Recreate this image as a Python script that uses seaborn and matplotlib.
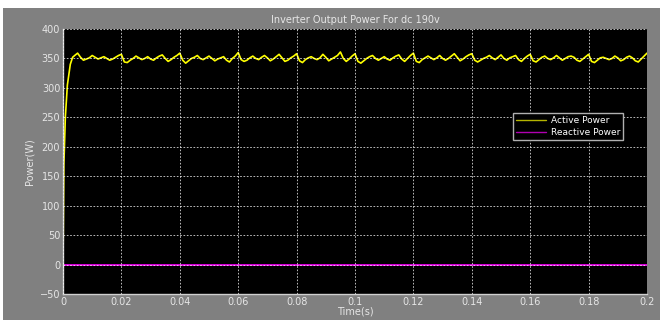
import numpy as np
import pandas as pd
import matplotlib
matplotlib.use("Agg")
import matplotlib.pyplot as plt
import seaborn as sns
from matplotlib.patches import Rectangle

# ---- data ----
start_t = [0.0, 0.0003, 0.0008, 0.0015, 0.0025, 0.0033]
start_p = [0, 170, 250, 305, 340, 352]

active_vals = [
    355, 359, 352, 347, 349, 351, 355, 352, 349, 351, 353, 350, 347, 349, 352, 355,
    357, 344, 343, 347, 350, 354, 351, 348, 350, 353, 349, 347, 351, 354, 356, 350, 345, 348, 352, 355,
    359, 347, 342, 346, 350, 352, 355, 350, 348, 351, 354, 350, 346, 349, 351, 353, 347, 344, 350, 354,
    360, 348, 345, 347, 351, 354, 350, 348, 352, 355, 351, 346, 349, 353, 357, 351, 345, 347, 351, 354,
    358, 346, 343, 348, 351, 353, 350, 348, 351, 357, 352, 346, 349, 352, 355, 361, 350, 345, 349, 354,
    358, 345, 342, 346, 350, 353, 355, 350, 347, 350, 353, 349, 347, 351, 354, 356, 349, 345, 350, 355,
    359, 345, 343, 348, 351, 354, 351, 348, 351, 355, 350, 347, 350, 354, 358, 352, 346, 349, 353, 356,
    358, 347, 344, 347, 350, 352, 355, 351, 348, 352, 356, 350, 347, 351, 353, 355, 348, 345, 350, 354,
    357, 346, 344, 348, 352, 354, 350, 348, 351, 355, 351, 347, 350, 353, 354, 352, 347, 345, 349, 353,
    357, 345, 343, 347, 351, 352, 350, 348, 350, 354, 351, 346, 348, 352, 354, 351, 346, 344, 349, 354, 359,
]
active_t = [round(0.004 + 0.001 * i, 4) for i in range(len(active_vals))]

reactive_t = [0.0, 0.05, 0.1, 0.15, 0.2]
reactive_p = [0, 0, 0, 0, 0]

xticks = [0, 0.02, 0.04, 0.06, 0.08, 0.1, 0.12, 0.14, 0.16, 0.18, 0.2]
xtick_labels = ["0", "0.02", "0.04", "0.06", "0.08", "0.1", "0.12", "0.14", "0.16", "0.18", "0.2"]
yticks = [-50, 0, 50, 100, 150, 200, 250, 300, 350, 400]

df = pd.concat([
    pd.DataFrame({"Time": start_t + active_t, "Power": start_p + active_vals, "Series": "Active Power"}),
    pd.DataFrame({"Time": reactive_t, "Power": reactive_p, "Series": "Reactive Power"}),
], ignore_index=True)

sns.set_style("dark")
plt.rcParams["font.family"] = ["DejaVu Sans"]

fig = plt.figure(figsize=(6.7, 3.22), dpi=100, facecolor="white")
fig.patches.append(Rectangle((3 / 670, 1 - 320 / 322), 657 / 670, 312 / 322,
                             transform=fig.transFigure, facecolor="#808080",
                             edgecolor="none", zorder=-10))
ax = fig.add_axes([63 / 670, 1 - 294 / 322, 584 / 670, 265 / 322])
ax.set_facecolor("black")

sns.lineplot(data=df, x="Time", y="Power", hue="Series",
             palette={"Active Power": "#ffff00", "Reactive Power": "#ff00ff"},
             linewidth=1.2, ax=ax, estimator=None, sort=False)

ax.set_xlim(0, 0.2)
ax.set_ylim(-50, 400)
ax.set_xticks(xticks)
ax.set_xticklabels(xtick_labels)
ax.set_yticks(yticks)
lc = "#e6e6e6"
ax.tick_params(colors=lc, labelsize=7, length=3, width=0.6, direction="in", pad=2)
ax.grid(True, color="white", linestyle=(0, (2, 2)), linewidth=0.6, alpha=0.85)
ax.set_axisbelow(False)
for s in ["left", "bottom"]:
    ax.spines[s].set_color("#d0d0d0")
    ax.spines[s].set_linewidth(1.0)
    ax.spines[s].set_visible(True)
for s in ["top", "right"]:
    ax.spines[s].set_visible(False)

ax.set_title("Inverter Output Power For dc 190v", color=lc, fontsize=7, pad=4)
ax.set_xlabel("Time(s)", color=lc, fontsize=7, labelpad=0)
ax.set_ylabel("Power(W)", color=lc, fontsize=7, labelpad=4)

handles, labels = ax.get_legend_handles_labels()
leg = ax.legend(handles, labels, loc="upper left", bbox_to_anchor=(0.763, 0.70),
                fontsize=6.5, frameon=True, facecolor="black", edgecolor="#b0b0b0",
                framealpha=1, fancybox=False, handlelength=3.3, borderpad=0.35,
                labelspacing=0.3, handletextpad=0.5)
for t in leg.get_texts():
    t.set_color("white")
for l in leg.get_lines():
    l.set_linewidth(1.0)
leg.get_lines()[0].set_color("#b5b500")
leg.get_lines()[1].set_color("#b000b0")

fig.savefig("out.png", dpi=100, facecolor="white")
